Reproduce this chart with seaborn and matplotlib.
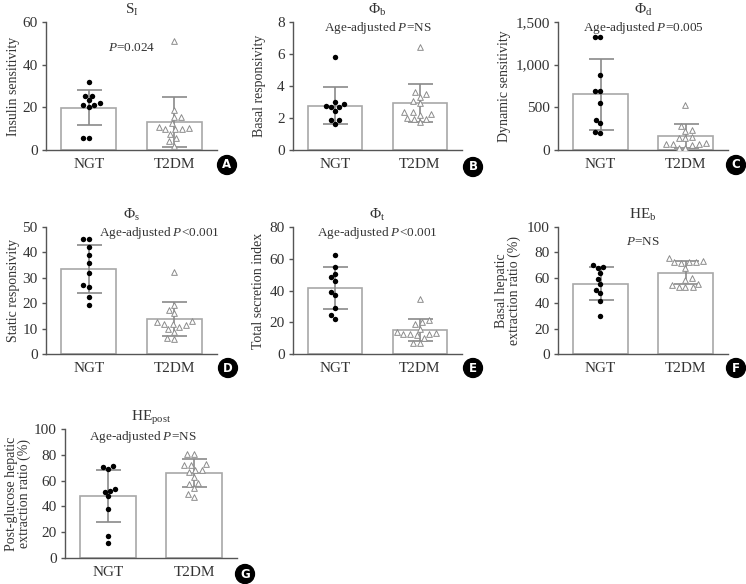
import numpy as np
import pandas as pd
import matplotlib
matplotlib.use('Agg')
import matplotlib.pyplot as plt
import seaborn as sns
from matplotlib.ticker import FuncFormatter

groups = ['NGT', 'T2DM']

# A: S_I
si_ngt = [32.0, 25.5, 23.5, 25.5, 21.2, 20.2, 21.0, 21.8, 5.6, 5.6]
si_t2dm = [50.9, 18.8, 15.4, 15.4, 12.5, 10.8, 9.7, 9.7, 9.7, 10.3, 7.4, 5.5, 4.1, 1.9]
si_mean = [19.9, 13.2]
si_sd = [8.2, 11.8]

# B: Phi_b
pb_ngt = [5.82, 3.03, 2.78, 2.67, 2.67, 2.86, 2.42, 1.88, 1.88, 1.63]
pb_t2dm = [6.41, 3.48, 3.63, 3.34, 3.09, 2.92, 2.40, 2.36, 2.19, 2.23, 2.03, 1.94, 1.94, 1.73]
pb_mean = [2.78, 2.93]
pb_sd = [1.15, 1.18]

# C: Phi_d
pd_ngt = [1323, 1323, 881, 689, 689, 556, 352, 321, 204, 215]
pd_t2dm = [529, 282, 235, 223, 145, 157, 145, 70, 70, 86, 55, 27, 27, 70]
pd_mean = [655, 165]
pd_sd = [415, 138]

# D: Phi_s
ps_ngt = [45.4, 45.4, 42.1, 39.1, 36.0, 31.7, 27.1, 26.3, 22.3, 19.2]
ps_t2dm = [32.3, 19.2, 17.5, 16.0, 12.7, 12.0, 10.7, 8.8, 9.8, 11.6, 12.0, 13.0, 5.9, 6.4]
ps_mean = [33.5, 13.6]
ps_sd = [9.5, 6.7]

# E: Phi_t
pt_ngt = [62.4, 55.1, 48.2, 50.7, 46.2, 37.2, 39.3, 28.9, 24.3, 22.2]
pt_t2dm = [34.7, 20.2, 21.2, 19.1, 16.0, 13.9, 12.5, 11.9, 12.5, 12.9, 13.3, 10.2, 6.7, 6.7]
pt_mean = [41.6, 15.3]
pt_sd = [13.1, 7.0]

# F: HE_b
heb_ngt = [69.9, 67.8, 68.3, 64.1, 58.9, 55.2, 50.0, 47.9, 41.9, 29.6]
heb_t2dm = [72.5, 72.5, 75.9, 72.0, 72.5, 73.0, 67.8, 60.2, 58.6, 55.5, 52.4, 52.4, 52.4, 54.2]
heb_mean = [55.4, 64.1]
heb_sd = [13.1, 8.9]

# G: HE_post
hep_ngt = [70.7, 71.2, 68.7, 51.8, 51.3, 53.4, 47.9, 38.1, 16.8, 11.9]
hep_t2dm = [80.6, 80.6, 72.5, 72.0, 72.0, 68.1, 66.3, 68.1, 63.0, 57.5, 58.3, 53.9, 50.0, 46.9]
hep_mean = [48.2, 66.0]
hep_sd = [20.3, 10.7]

titles = [r'S$_\mathrm{I}$', r'$\Phi_\mathrm{b}$', r'$\Phi_\mathrm{d}$', r'$\Phi_\mathrm{s}$',
          r'$\Phi_\mathrm{t}$', r'HE$_\mathrm{b}$', r'HE$_\mathrm{post}$']
ylabels = ['Insulin sensitivity', 'Basal responsivity', 'Dynamic sensitivity',
           'Static responsivity', 'Total secretion index',
           'Basal hepatic\nextraction ratio (%)', 'Post-glucose hepatic\nextraction ratio (%)']
ptexts = [r'$P$=0.024', r'Age-adjusted $P$=NS', r'Age-adjusted $P$=0.005',
          r'Age-adjusted $P$<0.001', r'Age-adjusted $P$<0.001', r'$P$=NS',
          r'Age-adjusted $P$=NS']
letters = ['A', 'B', 'C', 'D', 'E', 'F', 'G']

panels = [
    (si_ngt, si_t2dm, si_mean, si_sd, 60, 20),
    (pb_ngt, pb_t2dm, pb_mean, pb_sd, 8, 2),
    (pd_ngt, pd_t2dm, pd_mean, pd_sd, 1500, 500),
    (ps_ngt, ps_t2dm, ps_mean, ps_sd, 50, 10),
    (pt_ngt, pt_t2dm, pt_mean, pt_sd, 80, 20),
    (heb_ngt, heb_t2dm, heb_mean, heb_sd, 100, 20),
    (hep_ngt, hep_t2dm, hep_mean, hep_sd, 100, 20),
]

sns.set_theme(style='ticks')
plt.rcParams['font.family'] = ['Liberation Serif', 'DejaVu Serif']
plt.rcParams['mathtext.fontset'] = 'custom'
plt.rcParams['mathtext.rm'] = 'Liberation Serif'
plt.rcParams['mathtext.it'] = 'Liberation Serif:italic'
plt.rcParams['mathtext.bf'] = 'Liberation Serif:bold'

W, H = 746, 584
fig = plt.figure(figsize=(W / 100, H / 100), dpi=100)

# axes boxes in pixels: left, right, top, bottom
boxes = [(46, 217, 22, 150), (293, 462, 22, 150), (558, 728, 22, 150),
         (46, 217, 227, 354), (293, 462, 227, 354), (558, 728, 227, 354),
         (65, 237, 429, 558)]
ptext_pos = [(0.5, 0.80), (0.5, 0.95), (0.5, 0.95), (0.66, 0.95), (0.5, 0.95),
             (0.5, 0.88), (0.45, 0.94)]
# y label centre, in figure pixels
ylabel_x = [13, 260, 505, 13, 259, 508, 18]
letter_pos = [(227, 165), (473, 167), (736, 165), (228, 368), (473, 368), (736, 368),
              (245, 574)]

txt = '#333333'
for i, (ngt, t2dm, means, sds, ymax, ystep) in enumerate(panels):
    l, r, t, b = boxes[i]
    ax = fig.add_axes([l / W, 1 - b / H, (r - l) / W, (b - t) / H])

    summary = pd.DataFrame({'group': groups, 'mean': means})
    sns.barplot(data=summary, x='group', y='mean', order=groups, color='white',
                edgecolor='#a8a8a8', linewidth=1.2, width=0.64, ax=ax, zorder=1)
    ax.errorbar([0, 1], means, yerr=sds, fmt='none', ecolor='#8a8a8a',
                elinewidth=1.2, capsize=9, capthick=1.2, zorder=2)

    pts = pd.DataFrame({'group': ['NGT'] * len(ngt) + ['T2DM'] * len(t2dm),
                        'value': ngt + t2dm})
    sns.swarmplot(data=pts[pts.group == 'NGT'], x='group', y='value', order=groups,
                  color='black', size=3.9, marker='o', linewidth=0, ax=ax, zorder=3)
    sns.swarmplot(data=pts[pts.group == 'T2DM'], x='group', y='value', order=groups,
                  color='white', edgecolor='#8c8c8c', linewidth=0.7, size=4.1,
                  marker='^', ax=ax, zorder=3)

    ax.set_xlim(-0.5, 1.5)
    ax.set_ylim(0, ymax)
    ax.set_yticks(np.arange(0, ymax + ystep / 2, ystep))
    if ymax >= 1000:
        ax.yaxis.set_major_formatter(FuncFormatter(lambda v, p: f'{v:,.0f}'))
    sns.despine(ax=ax)
    ax.spines['left'].set_color('#555555')
    ax.spines['bottom'].set_color('#555555')
    ax.spines['left'].set_linewidth(1.0)
    ax.spines['bottom'].set_linewidth(1.0)
    ax.tick_params(axis='y', length=3, width=1.0, color='#555555', labelsize=11,
                   labelcolor=txt, pad=3)
    ax.tick_params(axis='x', length=0, labelsize=11, labelcolor=txt, pad=6)
    ax.set_xlabel('')
    ax.set_ylabel(ylabels[i], fontsize=10, color=txt, linespacing=1.0)
    ax.yaxis.label.set_va('center')
    ax.yaxis.set_label_coords((ylabel_x[i] - l) / (r - l), 0.5)
    ax.set_title(titles[i], fontsize=11, color=txt, pad=6)
    ax.text(ptext_pos[i][0], ptext_pos[i][1], ptexts[i], transform=ax.transAxes,
            ha='center', va='center', fontsize=9.5, color=txt)

    lx, ly = letter_pos[i]
    fig.text(lx / W, 1 - ly / H, letters[i], ha='center', va='center', color='white',
             fontsize=8.5, fontweight='bold', family='DejaVu Sans',
             bbox=dict(boxstyle='circle,pad=0.25', fc='black', ec='black'))

fig.savefig('out.png', dpi=100)
